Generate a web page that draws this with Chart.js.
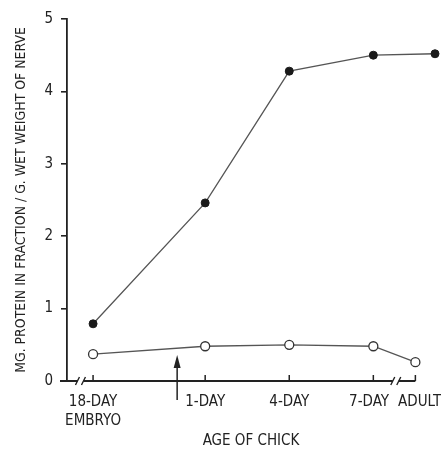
<!DOCTYPE html>
<html>
<head>
<meta charset="utf-8">
<script src="https://cdn.jsdelivr.net/npm/chart.js@4.4.1/dist/chart.umd.min.js"></script>
<style>
  html, body { margin: 0; padding: 0; background: #fff; }
  #wrap { width: 441px; height: 454px; }
</style>
</head>
<body>
<div id="wrap"><canvas id="chart"></canvas></div>
<script>
// ages in days relative to hatching (18-day embryo = -3)
const tickDays = [-3, 1, 4, 7, 8.5];
const tickLabels = [['18-DAY', 'EMBRYO'], '1-DAY', '4-DAY', '7-DAY  ', '  ADULT'];
const yTicks = [0, 1, 2, 3, 4, 5];

// filled circles
const filledX = [-3, 1, 4, 7, 9.2];
const filledY = [0.79, 2.46, 4.28, 4.50, 4.52];
// open circles
const openX = [-3, 1, 4, 7, 8.5];
const openY = [0.37, 0.48, 0.50, 0.48, 0.26];

const hatchDay = 0;

const FONT = '"DejaVu Sans Condensed", "DejaVu Sans", sans-serif';
const INK = '#222';

const toPoints = (xs, ys) => xs.map((x, i) => ({ x, y: ys[i] }));

// axis line with breaks, inward ticks, hatching arrow
const axisDeco = {
    id: 'axisDeco',
    afterDraw(chart) {
        const { ctx, scales: { x, y } } = chart;
        const y0 = y.getPixelForValue(0);
        const px = v => x.getPixelForValue(v);
        const gap = 6;
        const b1 = px(-3.45), b2 = px(7.8);
        ctx.save();
        ctx.strokeStyle = INK;
        ctx.lineWidth = 1.8;
        ctx.beginPath();
        ctx.moveTo(y.right - 7, y0); ctx.lineTo(b1 - gap / 2, y0);
        ctx.moveTo(b1 + gap / 2, y0); ctx.lineTo(b2 - gap / 2, y0);
        ctx.moveTo(b2 + gap / 2, y0); ctx.lineTo(px(8.5), y0);
        ctx.stroke();
        // break slashes
        ctx.lineWidth = 1.4;
        ctx.beginPath();
        [b1, b2].forEach(b => {
            [-gap / 2, gap / 2].forEach(d => {
                ctx.moveTo(b + d - 2, y0 + 4);
                ctx.lineTo(b + d + 2, y0 - 4);
            });
        });
        ctx.stroke();
        // inward ticks
        ctx.lineWidth = 1.5;
        ctx.beginPath();
        tickDays.forEach(v => {
            ctx.moveTo(px(v), y0);
            ctx.lineTo(px(v), y0 - 6);
        });
        ctx.stroke();
        // arrow at hatching
        const ax = px(hatchDay);
        const top = y.getPixelForValue(0.36);
        ctx.lineWidth = 1.5;
        ctx.beginPath();
        ctx.moveTo(ax, y0 + 19);
        ctx.lineTo(ax, top + 8);
        ctx.stroke();
        ctx.fillStyle = INK;
        ctx.beginPath();
        ctx.moveTo(ax, top);
        ctx.lineTo(ax - 3.5, top + 13);
        ctx.lineTo(ax + 3.5, top + 13);
        ctx.closePath();
        ctx.fill();
        ctx.restore();
    }
};

new Chart(document.getElementById('chart'), {
    type: 'scatter',
    data: {
        datasets: [
            {
                data: toPoints(filledX, filledY),
                showLine: true,
                borderColor: '#555',
                borderWidth: 1.3,
                pointRadius: 4,
                pointBackgroundColor: '#1a1a1a',
                pointBorderColor: '#1a1a1a',
                pointBorderWidth: 1,
                clip: false
            },
            {
                data: toPoints(openX, openY),
                showLine: true,
                borderColor: '#555',
                borderWidth: 1.3,
                pointRadius: 4.5,
                pointBackgroundColor: '#fff',
                pointBorderColor: '#333',
                pointBorderWidth: 1.3,
                clip: false
            }
        ]
    },
    options: {
        responsive: true,
        maintainAspectRatio: false,
        animation: false,
        layout: { padding: { top: 19, right: 6, left: 0, bottom: 0 } },
        plugins: {
            legend: { display: false },
            tooltip: { enabled: false }
        },
        scales: {
            x: {
                type: 'linear',
                min: -3.93,
                max: 9.2,
                afterBuildTicks: s => { s.ticks = tickDays.map(v => ({ value: v })); },
                afterFit: s => { s.height = 73; s.paddingLeft = 0; s.paddingRight = 0; },
                grid: { display: false },
                border: { display: false },
                ticks: {
                    autoSkip: false,
                    maxRotation: 0,
                    padding: 4,
                    color: INK,
                    font: { family: FONT, size: 15, lineHeight: 1.25 },
                    callback: (v, i) => tickLabels[i]
                },
                title: {
                    display: true,
                    text: 'AGE OF CHICK',
                    color: INK,
                    font: { family: FONT, size: 15 },
                    padding: { top: 0, bottom: 4 }
                }
            },
            y: {
                min: 0,
                max: 5,
                afterBuildTicks: s => { s.ticks = yTicks.map(v => ({ value: v })); },
                afterFit: s => { s.width = 67; },
                grid: { drawOnChartArea: false, tickLength: 6, color: INK, lineWidth: 1.6 },
                border: { display: true, color: INK, width: 1.8 },
                ticks: {
                    padding: 8,
                    color: INK,
                    font: { family: FONT, size: 15 }
                },
                title: {
                    display: true,
                    text: 'MG. PROTEIN IN FRACTION / G. WET WEIGHT OF NERVE',
                    color: INK,
                    font: { family: FONT, size: 13.9 },
                    padding: { top: 13, bottom: 0 }
                }
            }
        }
    },
    plugins: [axisDeco]
});
</script>
</body>
</html>
